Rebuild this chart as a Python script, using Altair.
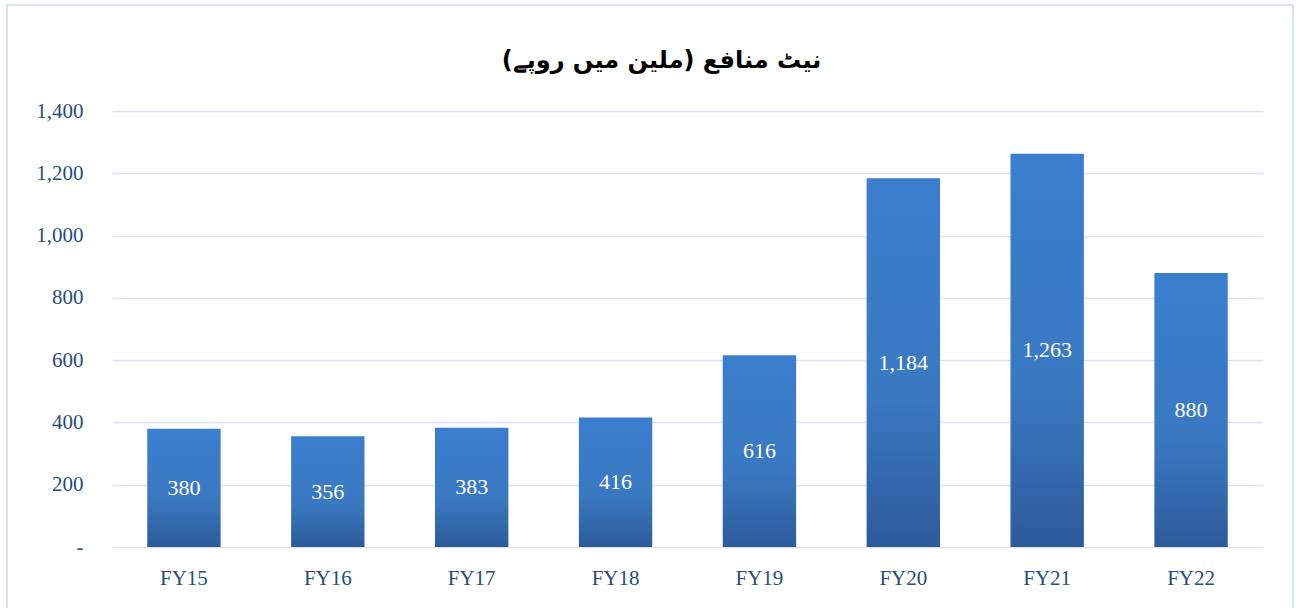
import altair as alt
import pandas as pd

years = ["FY15", "FY16", "FY17", "FY18", "FY19", "FY20", "FY21", "FY22"]
values = [380, 356, 383, 416, 616, 1184, 1263, 880]
y_ticks = [0, 200, 400, 600, 800, 1000, 1200, 1400]
title_text = "نیٹ منافع (ملین میں روپے)"

df = pd.DataFrame({"year": years, "value": values})
df["mid"] = df["value"] / 2
df["label"] = [f"{v:,}" for v in values]

W, H = 1151, 436
serif = "Liberation Serif"
axis_color = "#284B80"

grad = alt.Gradient(
    gradient="linear",
    stops=[alt.GradientStop(color="#3B7ECE", offset=0),
           alt.GradientStop(color="#3A78C2", offset=0.6),
           alt.GradientStop(color="#2D5B9A", offset=1)],
    x1=0, x2=0, y1=0, y2=1,
)

x = alt.X("year:N", sort=years, title=None,
          scale=alt.Scale(paddingInner=0.49, paddingOuter=0.245),
          axis=alt.Axis(labelAngle=0, labelFont=serif, labelFontSize=21,
                        labelColor=axis_color, labelPadding=20,
                        domain=False, ticks=False, grid=False))

y_scale = alt.Scale(domain=[0, 1400], nice=False)

bars = alt.Chart(df).mark_bar(color=grad).encode(
    x=x,
    y=alt.Y("value:Q", scale=y_scale, title=None,
            axis=alt.Axis(values=y_ticks,
                          labelExpr="datum.value == 0 ? '-' : format(datum.value, ',')",
                          labelFont=serif, labelFontSize=21, labelColor=axis_color,
                          labelPadding=29, domain=False, ticks=False,
                          grid=True, gridColor="#D9E2F3", gridWidth=1.5)),
)

labels = alt.Chart(df).mark_text(font=serif, fontSize=22, color="white",
                                 baseline="middle").encode(
    x=alt.X("year:N", sort=years),
    y=alt.Y("mid:Q", scale=y_scale),
    text="label:N",
)

frame = alt.Chart(df).mark_rect(fill=None, stroke="#D6E1F3", strokeWidth=2,
                                clip=False).encode(
    x=alt.value(-105), x2=alt.value(W + 30),
    y=alt.value(-106), y2=alt.value(H + 66),
)

chart = alt.layer(frame, bars, labels).properties(
    width=W, height=H,
    title=alt.TitleParams(title_text, font="DejaVu Sans", fontSize=24,
                          fontWeight="bold", color="black", anchor="middle",
                          baseline="bottom", dx=-26, offset=-93),
    padding={"left": 112, "top": 111, "right": 33, "bottom": 61},
    autosize=alt.AutoSizeParams(type="none"),
).configure_view(stroke=None)

chart.save("out.html", embed_options={"renderer": "svg", "actions": False})
